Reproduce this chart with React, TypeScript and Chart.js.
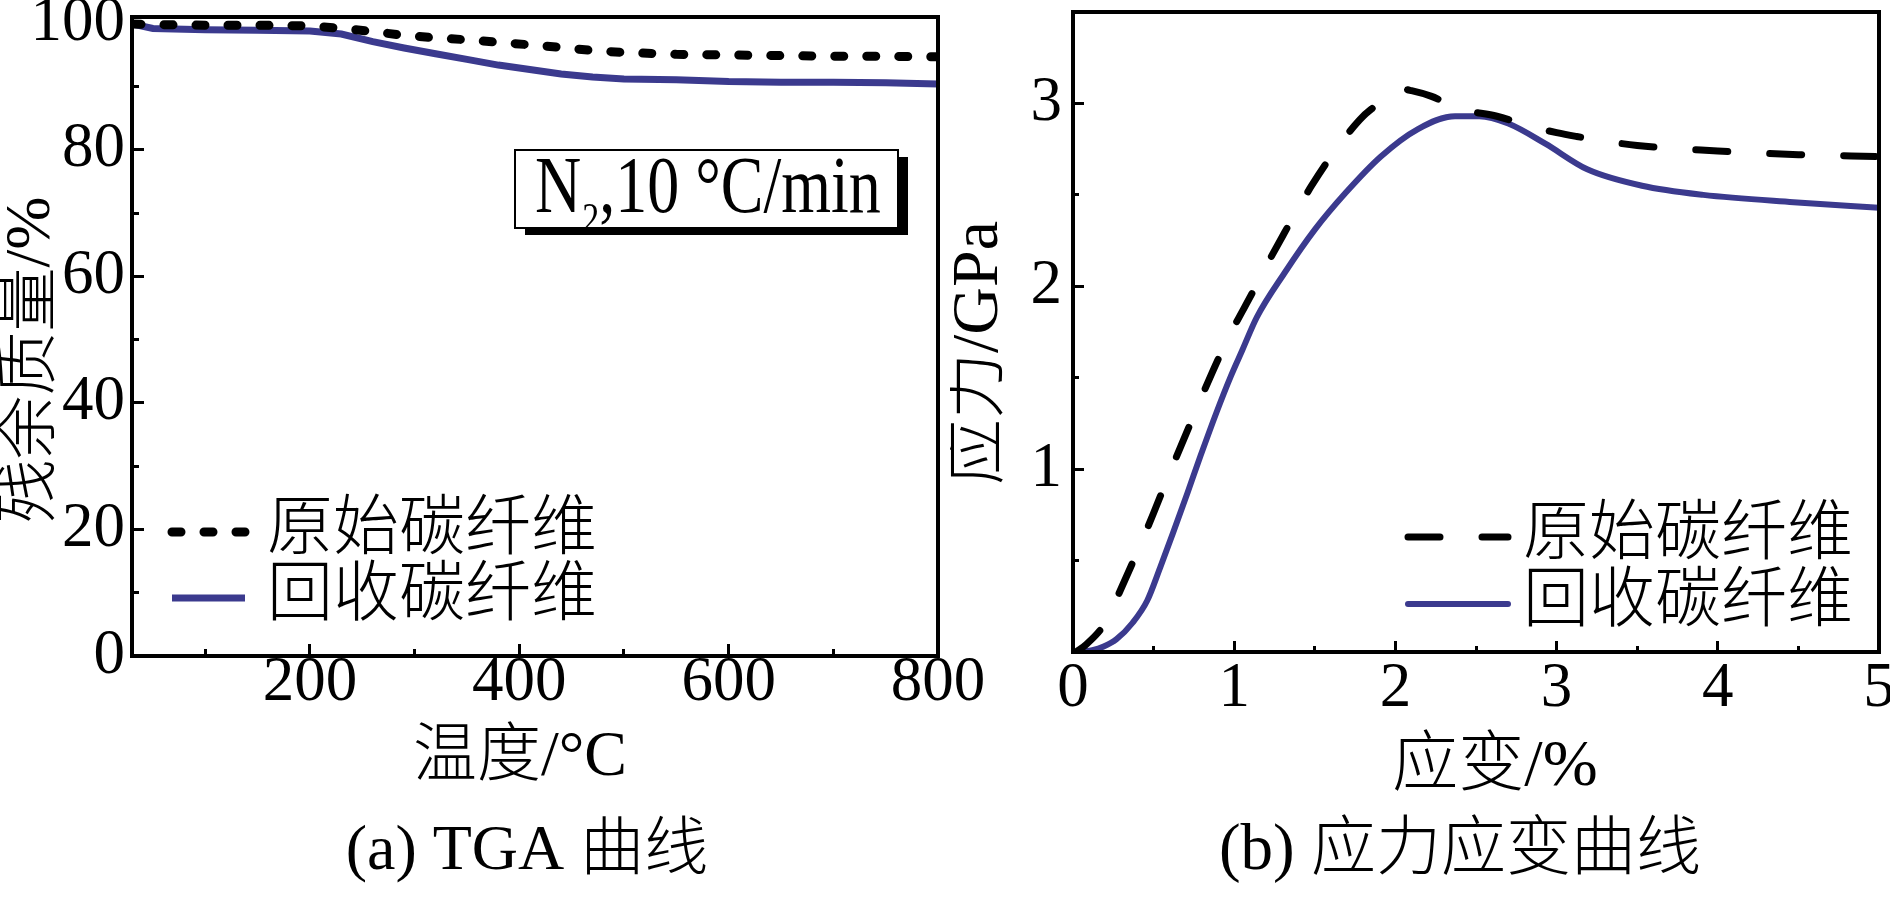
import React, { useEffect, useRef } from "react";
import { Chart, registerables } from "chart.js";

Chart.register(...registerables);

// ---------- (a) TGA curves ----------
const tgaTemperature = [30, 50, 100, 150, 200, 230, 260, 290, 320, 350, 380, 410, 440, 470, 500, 550, 600, 650, 700, 750, 800];
const tgaOriginalMass = [99.9, 99.8, 99.7, 99.7, 99.6, 99.2, 98.7, 98.1, 97.7, 97.4, 97.0, 96.6, 96.2, 95.7, 95.4, 95.1, 95.0, 94.9, 94.8, 94.8, 94.7];
const tgaRecycledMass = [99.9, 99.2, 99.0, 98.9, 98.8, 98.3, 97.1, 96.1, 95.2, 94.3, 93.4, 92.7, 92.0, 91.5, 91.2, 91.1, 90.8, 90.7, 90.7, 90.6, 90.4];
const tgaTempTicks = [200, 400, 600, 800];
const tgaTempMinorTicks = [100, 300, 500, 700];
const tgaMassTicks = [0, 20, 40, 60, 80, 100];
const tgaMassMinorTicks = [10, 30, 50, 70, 90];

// ---------- (b) stress-strain curves ----------
const originalStrain = [0.02, 0.08, 0.2, 0.3, 0.4, 0.5, 0.6, 0.7, 0.81, 0.9, 1.0, 1.11, 1.21, 1.31, 1.4, 1.48, 1.6, 1.71, 1.8, 1.88, 1.96, 2.03, 2.1, 2.22, 2.4, 2.63, 2.82, 3.0, 3.12, 3.5, 4.0, 4.5, 5.0];
const originalStress = [0.0, 0.04, 0.16, 0.35, 0.55, 0.76, 0.98, 1.19, 1.42, 1.6, 1.78, 1.96, 2.13, 2.29, 2.43, 2.55, 2.71, 2.84, 2.93, 2.99, 3.05, 3.08, 3.07, 3.04, 2.97, 2.93, 2.88, 2.84, 2.82, 2.77, 2.74, 2.72, 2.71];
const recycledStrain = [0.03, 0.12, 0.19, 0.27, 0.37, 0.46, 0.54, 0.62, 0.71, 0.79, 0.89, 0.98, 1.05, 1.14, 1.31, 1.5, 1.69, 1.91, 2.14, 2.37, 2.52, 2.7, 2.93, 3.19, 3.53, 3.91, 4.47, 5.0];
const recycledStress = [0.0, 0.01, 0.03, 0.07, 0.16, 0.28, 0.46, 0.65, 0.87, 1.07, 1.31, 1.51, 1.65, 1.83, 2.07, 2.31, 2.51, 2.71, 2.86, 2.93, 2.93, 2.89, 2.78, 2.64, 2.55, 2.5, 2.46, 2.43];
const strainTicks = [0, 1, 2, 3, 4, 5];
const strainMinorTicks = [0.5, 1.5, 2.5, 3.5, 4.5];
const stressTicks = [1, 2, 3];
const stressMinorTicks = [0.5, 1.5, 2.5];

const seriesNames = ["原始碳纤维", "回收碳纤维"];

const tgaXTitle = "温度/°C";
const tgaYTitle = "残余质量/%";
const tgaCaption = "(a) TGA 曲线";
const tgaNoteMain = "N";
const tgaNoteSub = "2";
const tgaNoteRest = ",10 °C/min";
const ssXTitle = "应变/%";
const ssYTitle = "应力/GPa";
const ssCaption = "(b) 应力应变曲线";

const BLUE = "#3b3a8e";
const SERIF = '"Liberation Serif", "Times New Roman", serif';
const MIXED = '"Liberation Serif", "Noto Sans CJK SC", serif';
const H = 898;

function majorAxis(axis: string, position: string, min: number, max: number, ticks: number[], tickLen: number, pad: number, size: number) {
  return {
    type: "linear",
    axis,
    position,
    min,
    max,
    weight: 1,
    afterBuildTicks: (s: any) => {
      s.ticks = ticks.map((v) => ({ value: v }));
    },
    afterFit: (s: any) => {
      if (axis === "x") s.height = size;
      else s.width = size;
      s.paddingLeft = 0;
      s.paddingRight = 0;
      s.paddingTop = 0;
      s.paddingBottom = 0;
    },
    ticks: {
      color: "#000",
      font: { family: SERIF, size: 63, lineHeight: 1 },
      padding: pad,
      autoSkip: false,
      maxRotation: 0,
      minRotation: 0,
    },
    grid: { drawOnChartArea: false, drawTicks: true, tickLength: -tickLen, tickWidth: 3, tickColor: "#000" },
    border: { display: false },
  };
}

function minorAxis(axis: string, position: string, min: number, max: number, ticks: number[], tickLen: number) {
  return {
    type: "linear",
    axis,
    position,
    min,
    max,
    weight: 0,
    afterBuildTicks: (s: any) => {
      s.ticks = ticks.map((v) => ({ value: v }));
    },
    afterFit: (s: any) => {
      if (axis === "x") s.height = 0;
      else s.width = 0;
      s.paddingLeft = 0;
      s.paddingRight = 0;
      s.paddingTop = 0;
      s.paddingBottom = 0;
    },
    ticks: { display: false, autoSkip: false },
    grid: { drawOnChartArea: false, drawTicks: true, tickLength: -tickLen, tickWidth: 3, tickColor: "#000" },
    border: { display: false },
  };
}

type TextSpec = { text: string; x: number; y: number; size: number };
type Decor = {
  xTitle: TextSpec;
  yTitle: TextSpec;
  caption: TextSpec;
  legend: { x0: number; x1: number; textX: number; rows: number[]; size: number };
  note?: boolean;
};

function decorPlugin(d: Decor) {
  return {
    id: "decor",
    afterDraw(chart: any) {
      const ctx: CanvasRenderingContext2D = chart.ctx;
      const a = chart.chartArea;
      ctx.save();
      // frame
      ctx.strokeStyle = "#000";
      ctx.lineWidth = 4;
      ctx.setLineDash([]);
      ctx.strokeRect(a.left, a.top, a.right - a.left, a.bottom - a.top);

      ctx.fillStyle = "#000";
      ctx.textBaseline = "middle";
      ctx.textAlign = "center";
      // x title & caption
      ctx.font = `300 ${d.xTitle.size}px ${MIXED}`;
      ctx.fillText(d.xTitle.text, d.xTitle.x, d.xTitle.y);
      ctx.font = `300 ${d.caption.size}px ${MIXED}`;
      ctx.fillText(d.caption.text, d.caption.x, d.caption.y);
      // y title (rotated)
      ctx.save();
      ctx.translate(d.yTitle.x, d.yTitle.y);
      ctx.rotate(-Math.PI / 2);
      ctx.font = `300 ${d.yTitle.size}px ${MIXED}`;
      ctx.fillText(d.yTitle.text, 0, 0);
      ctx.restore();

      // legend
      chart.data.datasets.forEach((ds: any, i: number) => {
        const y = d.legend.rows[i];
        ctx.save();
        ctx.strokeStyle = ds.borderColor;
        ctx.lineWidth = ds.borderWidth;
        ctx.lineCap = ds.borderCapStyle || "butt";
        ctx.setLineDash(ds.borderDash || []);
        ctx.lineDashOffset = 0;
        ctx.beginPath();
        ctx.moveTo(d.legend.x0, y);
        ctx.lineTo(d.legend.x1, y);
        ctx.stroke();
        ctx.restore();
        ctx.textAlign = "left";
        ctx.textBaseline = "middle";
        ctx.font = `300 ${d.legend.size}px ${MIXED}`;
        ctx.fillText(ds.label, d.legend.textX, y);
      });

      // annotation box
      if (d.note) {
        ctx.fillStyle = "#000";
        ctx.fillRect(525, 157, 383, 78);
        ctx.fillStyle = "#fff";
        ctx.fillRect(515, 150, 383, 78);
        ctx.strokeStyle = "#000";
        ctx.lineWidth = 2;
        ctx.strokeRect(515, 150, 383, 78);
        ctx.save();
        ctx.translate(0, 212);
        ctx.scale(1, 1.25);
        ctx.fillStyle = "#000";
        ctx.textAlign = "left";
        ctx.textBaseline = "alphabetic";
        let x = 535;
        ctx.font = `64px ${SERIF}`;
        ctx.fillText(tgaNoteMain, x, 0);
        x += ctx.measureText(tgaNoteMain).width + 1;
        ctx.font = `34px ${SERIF}`;
        ctx.fillText(tgaNoteSub, x, 16);
        x += ctx.measureText(tgaNoteSub).width;
        ctx.font = `64px ${SERIF}`;
        ctx.fillText(tgaNoteRest, x, 0);
        ctx.restore();
      }
      ctx.restore();
    },
  };
}

function tgaConfig(): any {
  return {
    type: "line",
    data: {
      datasets: [
        {
          label: seriesNames[0],
          data: tgaTemperature.map((t, i) => ({ x: t, y: tgaOriginalMass[i] })),
          borderColor: "#000",
          borderWidth: 9,
          borderDash: [9, 23],
          borderCapStyle: "round",
          pointRadius: 0,
          tension: 0,
        },
        {
          label: seriesNames[1],
          data: tgaTemperature.map((t, i) => ({ x: t, y: tgaRecycledMass[i] })),
          borderColor: BLUE,
          borderWidth: 7,
          pointRadius: 0,
          tension: 0,
        },
      ],
    },
    options: {
      responsive: false,
      animation: false,
      events: [],
      layout: { padding: { top: 17, right: 62, left: 0, bottom: 0 } },
      plugins: { legend: { display: false }, tooltip: { enabled: false }, title: { display: false } },
      scales: {
        x: majorAxis("x", "bottom", 30, 800, tgaTempTicks, 12, 8, H - 656),
        xMinor: minorAxis("x", "bottom", 30, 800, tgaTempMinorTicks, 7),
        y: majorAxis("y", "left", 0, 101, tgaMassTicks, 12, 19, 132),
        yMinor: minorAxis("y", "left", 0, 101, tgaMassMinorTicks, 7),
      },
    },
    plugins: [
      decorPlugin({
        xTitle: { text: tgaXTitle, x: 520, y: 758, size: 64 },
        yTitle: { text: tgaYTitle, x: 32, y: 360, size: 64 },
        caption: { text: tgaCaption, x: 527, y: 852, size: 64 },
        legend: { x0: 172, x1: 245, textX: 267, rows: [532, 598], size: 66 },
        note: true,
      }),
    ],
  };
}

function ssConfig(): any {
  return {
    type: "line",
    data: {
      datasets: [
        {
          label: seriesNames[0],
          data: originalStrain.map((s, i) => ({ x: s, y: originalStress[i] })),
          borderColor: "#000",
          borderWidth: 7,
          borderDash: [32, 42],
          borderCapStyle: "round",
          pointRadius: 0,
          cubicInterpolationMode: "monotone",
        },
        {
          label: seriesNames[1],
          data: recycledStrain.map((s, i) => ({ x: s, y: recycledStress[i] })),
          borderColor: BLUE,
          borderWidth: 6,
          borderCapStyle: "round",
          pointRadius: 0,
          cubicInterpolationMode: "monotone",
        },
      ],
    },
    options: {
      responsive: false,
      animation: false,
      events: [],
      layout: { padding: { top: 12, right: 11, left: 0, bottom: 0 } },
      plugins: { legend: { display: false }, tooltip: { enabled: false }, title: { display: false } },
      scales: {
        x: majorAxis("x", "bottom", 0, 5, strainTicks, 11, 17, H - 652),
        xMinor: minorAxis("x", "bottom", 0, 5, strainMinorTicks, 6),
        y: majorAxis("y", "left", 0, 3.5, stressTicks, 11, 22, 123),
        yMinor: minorAxis("y", "left", 0, 3.5, stressMinorTicks, 6),
      },
    },
    plugins: [
      decorPlugin({
        xTitle: { text: ssXTitle, x: 545, y: 768, size: 66 },
        yTitle: { text: ssYTitle, x: 30, y: 353, size: 66 },
        caption: { text: ssCaption, x: 510, y: 852, size: 65 },
        legend: { x0: 458, x1: 558, textX: 573, rows: [537, 604], size: 66 },
      }),
    ],
  };
}

function ChartCanvas({ make, left, width }: { make: () => any; left: number; width: number }) {
  const ref = useRef<HTMLCanvasElement | null>(null);
  useEffect(() => {
    if (!ref.current) return;
    const chart = new Chart(ref.current, make());
    return () => chart.destroy();
  }, [make]);
  return (
    <canvas
      ref={ref}
      width={width}
      height={H}
      style={{ position: "absolute", left, top: 0, width, height: H }}
    />
  );
}

export default function App() {
  return (
    <div style={{ position: "absolute", left: 0, top: 0, width: 1890, height: H, background: "#fff", overflow: "hidden" }}>
      <ChartCanvas make={tgaConfig} left={0} width={1000} />
      <ChartCanvas make={ssConfig} left={950} width={940} />
    </div>
  );
}
